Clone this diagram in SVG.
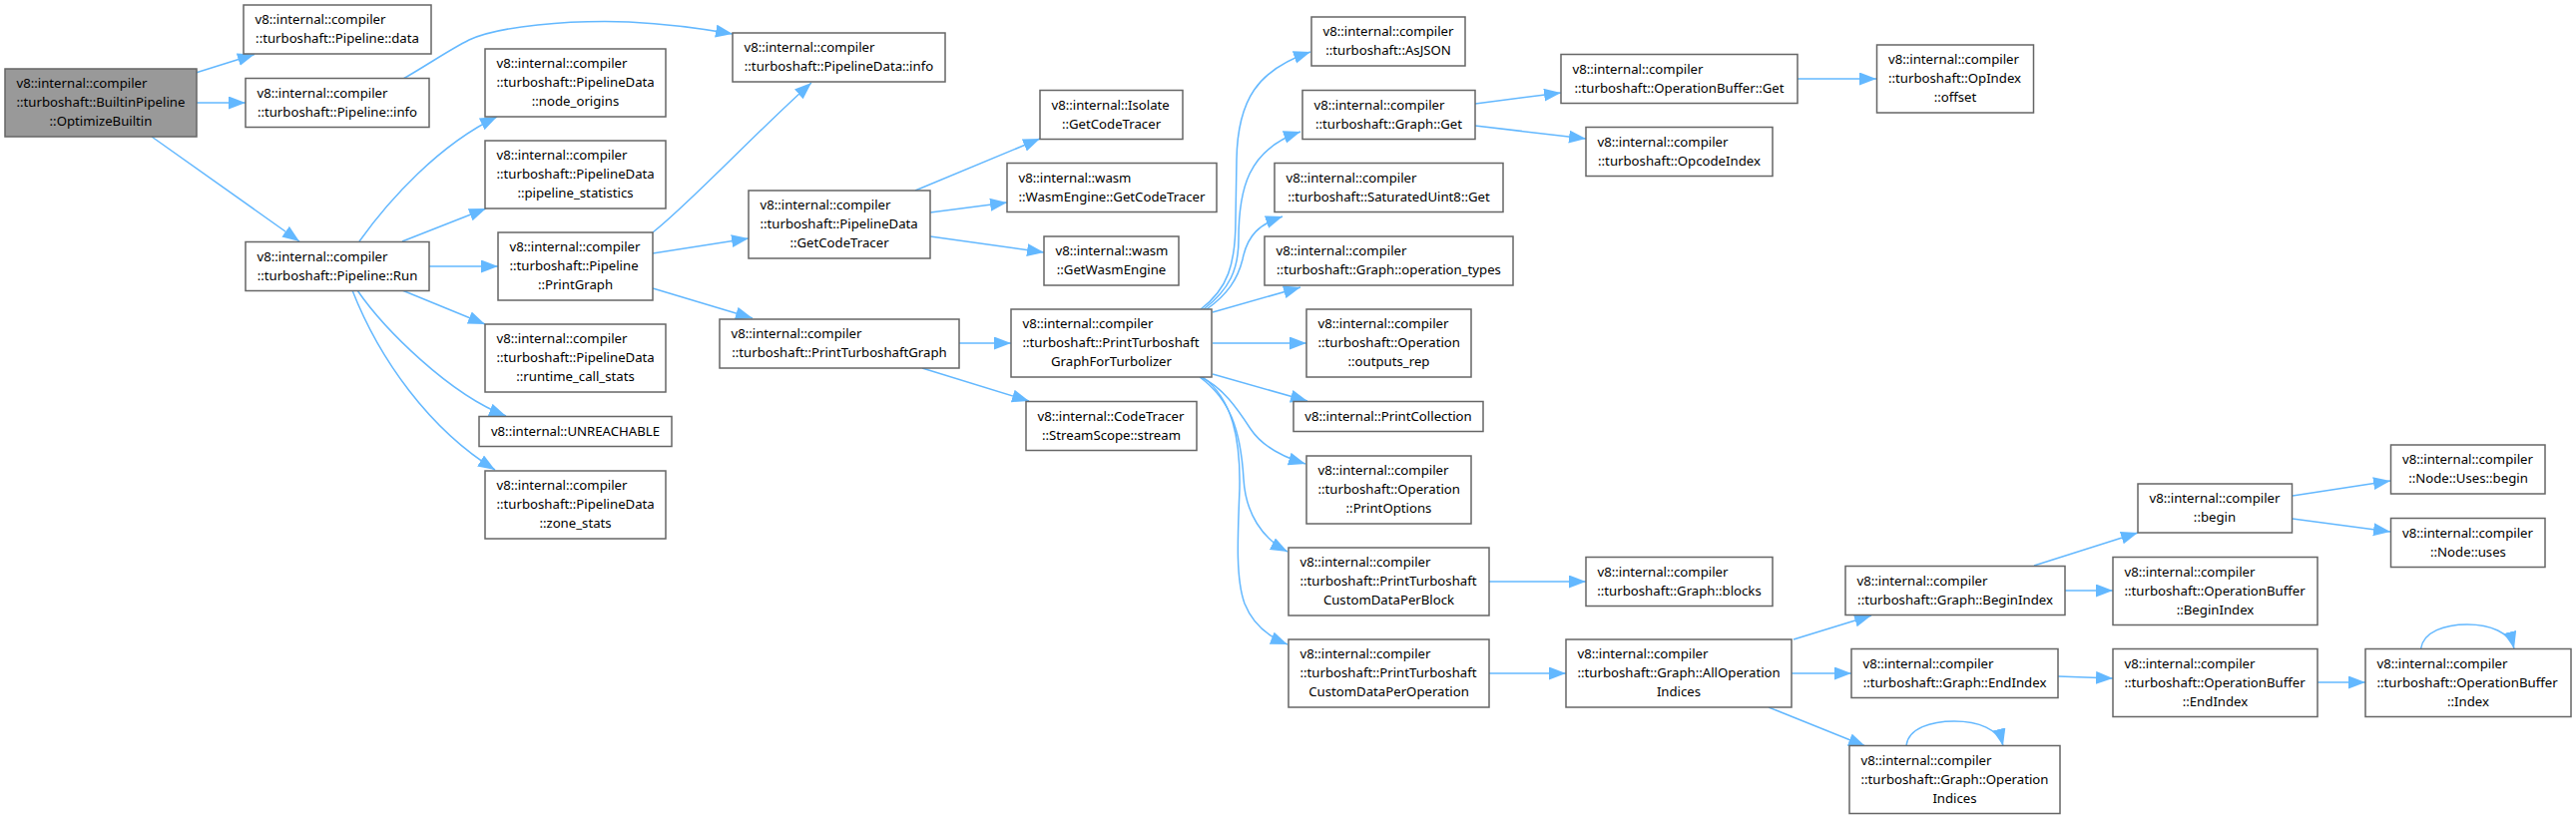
<svg xmlns="http://www.w3.org/2000/svg" width="2581" height="821" viewBox="0 0 2581 821">
<defs>
<style>
.n rect{fill:#fff;stroke:#666;stroke-width:1.5}
.n.root rect{fill:#999}
text{font-family:"Noto Sans","DejaVu Sans",sans-serif;font-size:13.2px;fill:#000}
.c{text-anchor:middle}
#edges path{fill:none;stroke:#63b8ff;stroke-width:1.5;marker-end:url(#a)}
</style>
<marker id="a" markerUnits="userSpaceOnUse" markerWidth="18" markerHeight="14" refX="17" refY="6.5" orient="auto"><path d="M0,0 L17,6.5 L0,13 z" fill="#63b8ff"/></marker>
</defs>
<rect width="2581" height="821" fill="#fff"/>
<g id="edges">
<path d="M196,73 L255,54.5"/>
<path d="M197,103 L246,103"/>
<path d="M152,137 L300,242"/>
<path d="M404,79 C430,64 450,50 470,40 C500,26 570,20 630,22 C670,24 700,28 734,34"/>
<path d="M360,242 C390,200 440,145 498,117"/>
<path d="M403,242 L487,209"/>
<path d="M430,267 L499,267"/>
<path d="M403,291 L486,325"/>
<path d="M358,291 C385,330 450,395 507,417"/>
<path d="M353,291 C380,360 430,430 496,471"/>
<path d="M654,233 C690,205 760,130 813,83"/>
<path d="M654,254 L750,239"/>
<path d="M654,289 L754,319"/>
<path d="M917,191 L1042,139"/>
<path d="M932,213 L1009,203"/>
<path d="M932,237 L1046,253"/>
<path d="M961,344 L1013,344"/>
<path d="M924,369 L1031,402"/>
<path d="M1203,310 C1230,290 1238,265 1238,220 L1239,160 C1240,100 1260,70 1313,52"/>
<path d="M1206,310 C1232,290 1241,270 1241,240 C1241,190 1250,150 1303,132"/>
<path d="M1209,310 C1230,295 1240,280 1245,260 C1250,235 1262,225 1285,217"/>
<path d="M1215,313 L1303,288"/>
<path d="M1215,344 L1309,344"/>
<path d="M1215,375 L1310,402"/>
<path d="M1203,378 C1225,388 1240,410 1253,430 C1265,448 1285,458 1308,465"/>
<path d="M1202,378 C1232,400 1243,430 1246,480 C1248,515 1265,540 1290,553"/>
<path d="M1205,378 C1235,400 1243,440 1242,490 C1240,540 1238,580 1247,605 C1255,625 1270,638 1290,646"/>
<path d="M1478,104 L1564,93"/>
<path d="M1478,126 L1589,139"/>
<path d="M1801,79 L1880,79"/>
<path d="M1492,583 L1589,583"/>
<path d="M1492,675 L1569,675"/>
<path d="M1797,641 L1875,617"/>
<path d="M1795,675 L1855,675"/>
<path d="M1772,709 L1869,748"/>
<path d="M1910,747.5 C1912,730 1935,723 1958,723 C1982,723 2003,731 2007,747.5"/>
<path d="M2038,567 L2142,534"/>
<path d="M2069,592 L2117,592"/>
<path d="M2297,497 L2395,482"/>
<path d="M2297,520 L2395,533"/>
<path d="M2062,678 L2117,680"/>
<path d="M2322,684 L2370,684"/>
<path d="M2425.5,650.5 C2428,633 2450,626 2472,626 C2495,626 2515,634 2519,650"/>
</g>
<g id="n1" class="n root"><rect x="5" y="69" width="192" height="68"/><text x="16.5" y="88">v8::internal::compiler</text><text x="16.5" y="107">::turboshaft::BuiltinPipeline</text><text class="c" x="101" y="126">::OptimizeBuiltin</text></g>
<g id="n2" class="n"><rect x="244" y="5" width="188" height="49"/><text x="255.5" y="24">v8::internal::compiler</text><text class="c" x="338" y="43">::turboshaft::Pipeline::data</text></g>
<g id="n3" class="n"><rect x="246" y="78.5" width="184" height="49"/><text x="257.5" y="97.5">v8::internal::compiler</text><text class="c" x="338" y="116.5">::turboshaft::Pipeline::info</text></g>
<g id="n4" class="n"><rect x="246" y="242.5" width="184" height="49"/><text x="257.5" y="261.5">v8::internal::compiler</text><text class="c" x="338" y="280.5">::turboshaft::Pipeline::Run</text></g>
<g id="n5" class="n"><rect x="486" y="49" width="181" height="68"/><text x="497.5" y="68">v8::internal::compiler</text><text x="497.5" y="87">::turboshaft::PipelineData</text><text class="c" x="576.5" y="106">::node_origins</text></g>
<g id="n6" class="n"><rect x="486" y="141" width="181" height="68"/><text x="497.5" y="160">v8::internal::compiler</text><text x="497.5" y="179">::turboshaft::PipelineData</text><text class="c" x="576.5" y="198">::pipeline_statistics</text></g>
<g id="n7" class="n"><rect x="499" y="233" width="155" height="68"/><text x="510.5" y="252">v8::internal::compiler</text><text x="510.5" y="271">::turboshaft::Pipeline</text><text class="c" x="576.5" y="290">::PrintGraph</text></g>
<g id="n8" class="n"><rect x="486" y="325" width="181" height="68"/><text x="497.5" y="344">v8::internal::compiler</text><text x="497.5" y="363">::turboshaft::PipelineData</text><text class="c" x="576.5" y="382">::runtime_call_stats</text></g>
<g id="n9" class="n"><rect x="480" y="417.5" width="193" height="30"/><text class="c" x="576.5" y="436.5">v8::internal::UNREACHABLE</text></g>
<g id="n10" class="n"><rect x="486" y="472" width="181" height="68"/><text x="497.5" y="491">v8::internal::compiler</text><text x="497.5" y="510">::turboshaft::PipelineData</text><text class="c" x="576.5" y="529">::zone_stats</text></g>
<g id="n11" class="n"><rect x="734" y="33" width="213" height="49"/><text x="745.5" y="52">v8::internal::compiler</text><text class="c" x="840.5" y="71">::turboshaft::PipelineData::info</text></g>
<g id="n12" class="n"><rect x="750" y="191" width="182" height="68"/><text x="761.5" y="210">v8::internal::compiler</text><text x="761.5" y="229">::turboshaft::PipelineData</text><text class="c" x="841" y="248">::GetCodeTracer</text></g>
<g id="n13" class="n"><rect x="1042" y="90.5" width="143" height="49"/><text x="1053.5" y="109.5">v8::internal::Isolate</text><text class="c" x="1113.5" y="128.5">::GetCodeTracer</text></g>
<g id="n14" class="n"><rect x="1009" y="163.5" width="210" height="49"/><text x="1020.5" y="182.5">v8::internal::wasm</text><text class="c" x="1114" y="201.5">::WasmEngine::GetCodeTracer</text></g>
<g id="n15" class="n"><rect x="1046" y="237" width="135" height="49"/><text x="1057.5" y="256">v8::internal::wasm</text><text class="c" x="1113.5" y="275">::GetWasmEngine</text></g>
<g id="n16" class="n"><rect x="721" y="320" width="240" height="49"/><text x="732.5" y="339">v8::internal::compiler</text><text class="c" x="841" y="358">::turboshaft::PrintTurboshaftGraph</text></g>
<g id="n17" class="n"><rect x="1013" y="310" width="201" height="68"/><text x="1024.5" y="329">v8::internal::compiler</text><text x="1024.5" y="348">::turboshaft::PrintTurboshaft</text><text class="c" x="1113.5" y="367">GraphForTurbolizer</text></g>
<g id="n18" class="n"><rect x="1028" y="402.5" width="171" height="49"/><text x="1039.5" y="421.5">v8::internal::CodeTracer</text><text class="c" x="1113.5" y="440.5">::StreamScope::stream</text></g>
<g id="n19" class="n"><rect x="1314" y="17" width="154" height="49"/><text x="1325.5" y="36">v8::internal::compiler</text><text class="c" x="1391" y="55">::turboshaft::AsJSON</text></g>
<g id="n20" class="n"><rect x="1305" y="90.5" width="173" height="49"/><text x="1316.5" y="109.5">v8::internal::compiler</text><text class="c" x="1391.5" y="128.5">::turboshaft::Graph::Get</text></g>
<g id="n21" class="n"><rect x="1277" y="163.5" width="229" height="49"/><text x="1288.5" y="182.5">v8::internal::compiler</text><text class="c" x="1391.5" y="201.5">::turboshaft::SaturatedUint8::Get</text></g>
<g id="n22" class="n"><rect x="1267" y="237" width="249" height="49"/><text x="1278.5" y="256">v8::internal::compiler</text><text class="c" x="1391.5" y="275">::turboshaft::Graph::operation_types</text></g>
<g id="n23" class="n"><rect x="1309" y="310" width="165" height="68"/><text x="1320.5" y="329">v8::internal::compiler</text><text x="1320.5" y="348">::turboshaft::Operation</text><text class="c" x="1391.5" y="367">::outputs_rep</text></g>
<g id="n24" class="n"><rect x="1296" y="402.5" width="190" height="30"/><text class="c" x="1391" y="421.5">v8::internal::PrintCollection</text></g>
<g id="n25" class="n"><rect x="1309" y="457" width="165" height="68"/><text x="1320.5" y="476">v8::internal::compiler</text><text x="1320.5" y="495">::turboshaft::Operation</text><text class="c" x="1391.5" y="514">::PrintOptions</text></g>
<g id="n26" class="n"><rect x="1291" y="549" width="201" height="68"/><text x="1302.5" y="568">v8::internal::compiler</text><text x="1302.5" y="587">::turboshaft::PrintTurboshaft</text><text class="c" x="1391.5" y="606">CustomDataPerBlock</text></g>
<g id="n27" class="n"><rect x="1291" y="641" width="201" height="68"/><text x="1302.5" y="660">v8::internal::compiler</text><text x="1302.5" y="679">::turboshaft::PrintTurboshaft</text><text class="c" x="1391.5" y="698">CustomDataPerOperation</text></g>
<g id="n28" class="n"><rect x="1564" y="54.5" width="237" height="49"/><text x="1575.5" y="73.5">v8::internal::compiler</text><text class="c" x="1682.5" y="92.5">::turboshaft::OperationBuffer::Get</text></g>
<g id="n29" class="n"><rect x="1589" y="127.5" width="187" height="49"/><text x="1600.5" y="146.5">v8::internal::compiler</text><text class="c" x="1682.5" y="165.5">::turboshaft::OpcodeIndex</text></g>
<g id="n30" class="n"><rect x="1880.5" y="45" width="157" height="68"/><text x="1892" y="64">v8::internal::compiler</text><text x="1892" y="83">::turboshaft::OpIndex</text><text class="c" x="1959" y="102">::offset</text></g>
<g id="n31" class="n"><rect x="1589" y="558.5" width="187" height="49"/><text x="1600.5" y="577.5">v8::internal::compiler</text><text class="c" x="1682.5" y="596.5">::turboshaft::Graph::blocks</text></g>
<g id="n32" class="n"><rect x="1569" y="641" width="226" height="68"/><text x="1580.5" y="660">v8::internal::compiler</text><text x="1580.5" y="679">::turboshaft::Graph::AllOperation</text><text class="c" x="1682" y="698">Indices</text></g>
<g id="n33" class="n"><rect x="1849" y="567.5" width="220" height="49"/><text x="1860.5" y="586.5">v8::internal::compiler</text><text class="c" x="1959" y="605.5">::turboshaft::Graph::BeginIndex</text></g>
<g id="n34" class="n"><rect x="1855" y="650.5" width="207" height="49"/><text x="1866.5" y="669.5">v8::internal::compiler</text><text class="c" x="1958.5" y="688.5">::turboshaft::Graph::EndIndex</text></g>
<g id="n35" class="n"><rect x="1853" y="747.5" width="211" height="68"/><text x="1864.5" y="766.5">v8::internal::compiler</text><text x="1864.5" y="785.5">::turboshaft::Graph::Operation</text><text class="c" x="1958.5" y="804.5">Indices</text></g>
<g id="n36" class="n"><rect x="2142" y="485" width="154.5" height="49"/><text x="2153.5" y="504">v8::internal::compiler</text><text class="c" x="2219" y="523">::begin</text></g>
<g id="n37" class="n"><rect x="2395.5" y="446" width="154.5" height="49"/><text x="2407" y="465">v8::internal::compiler</text><text class="c" x="2473" y="484">::Node::Uses::begin</text></g>
<g id="n38" class="n"><rect x="2395.5" y="519.5" width="154.5" height="49"/><text x="2407" y="538.5">v8::internal::compiler</text><text class="c" x="2473" y="557.5">::Node::uses</text></g>
<g id="n39" class="n"><rect x="2117" y="558.5" width="205" height="68"/><text x="2128.5" y="577.5">v8::internal::compiler</text><text x="2128.5" y="596.5">::turboshaft::OperationBuffer</text><text class="c" x="2219.5" y="615.5">::BeginIndex</text></g>
<g id="n40" class="n"><rect x="2117" y="650.5" width="205" height="68"/><text x="2128.5" y="669.5">v8::internal::compiler</text><text x="2128.5" y="688.5">::turboshaft::OperationBuffer</text><text class="c" x="2219.5" y="707.5">::EndIndex</text></g>
<g id="n41" class="n"><rect x="2370" y="650.5" width="206" height="68"/><text x="2381.5" y="669.5">v8::internal::compiler</text><text x="2381.5" y="688.5">::turboshaft::OperationBuffer</text><text class="c" x="2473" y="707.5">::Index</text></g>
</svg>
